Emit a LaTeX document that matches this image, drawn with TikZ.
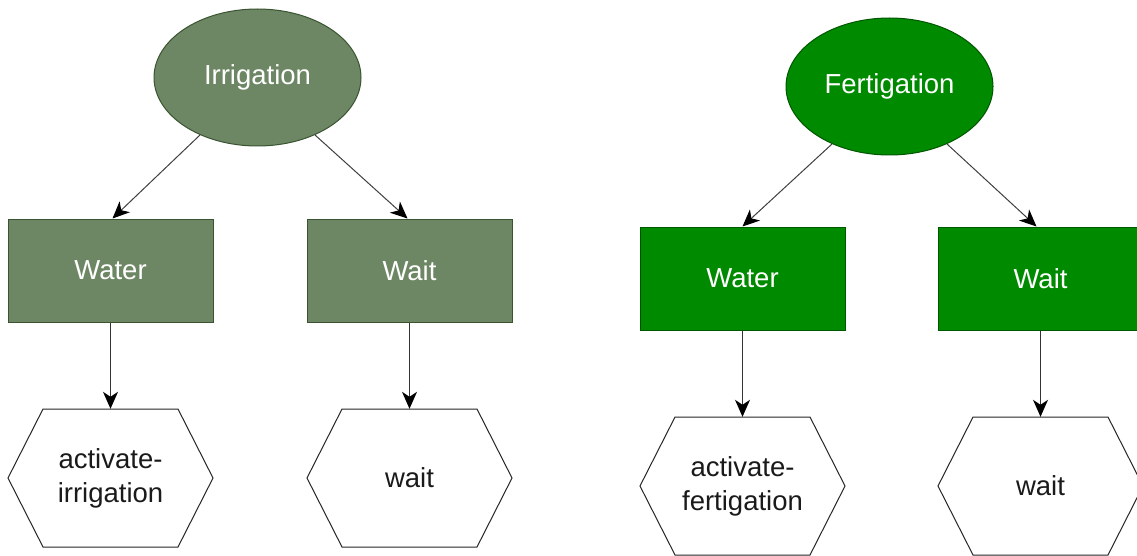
\documentclass[tikz,border=0pt]{standalone}
\usepackage{fontspec}
\setmainfont{Liberation Sans}
\usetikzlibrary{shapes.geometric,arrows.meta}

\definecolor{irrfill}{HTML}{6D8764}
\definecolor{irrline}{HTML}{3A5431}
\definecolor{ferfill}{HTML}{008A00}
\definecolor{ferline}{HTML}{005700}
\definecolor{inktext}{HTML}{1A1A1A}

\tikzset{
  x=1pt, y=-1pt,
  lbl/.style={font=\fontsize{27.5}{34}\selectfont, align=center},
  topic/.style={ellipse, lbl, text=white, line width=1pt,
    minimum width=207pt, minimum height=137pt, inner sep=0pt},
  irr/.style={fill=irrfill, draw=irrline},
  fer/.style={fill=ferfill, draw=ferline},
  taskbox/.style={rectangle, lbl, text=white, line width=1pt,
    minimum width=205pt, minimum height=103pt, inner sep=0pt},
  hexbox/.style={rectangle, lbl, text=inktext,
    minimum width=205pt, minimum height=138pt, inner sep=0pt},
  hexline/.style={draw=black!85, line width=1pt, fill=white},
  link/.style={draw=black!75, line width=1pt,
    -{Stealth[length=17pt, width=15pt, inset=5pt, color=black]}},
  drop/.style={link, draw=black!80, line width=1.2pt}
}

\begin{document}
\begin{tikzpicture}
  \useasboundingbox[fill=white] (0,0) rectangle (1137,556);

  % irrigation branch
  \node[topic, irr]   (irr)     at (257.5,77.5) {Irrigation};
  \node[taskbox, irr] (irrwater) at (110.5,270.5) {Water};
  \node[taskbox, irr] (irrwait)  at (409.5,270.5) {Wait};

  % fertigation branch
  \node[topic, fer]   (fer)     at (889.5,86.5) {Fertigation};
  \node[taskbox, fer] (ferwater) at (742.5,278.5) {Water};
  \node[taskbox, fer] (ferwait)  at (1040.5,278.5) {Wait};

  % hexagonal action outlines (drawn before their labels)
  \foreach \cx/\cy in {110.5/478, 409.5/478, 742.5/486, 1040.5/486}{
    \path[hexline] (\cx-102.5,\cy) -- (\cx-67.5,\cy-69) -- (\cx+67.5,\cy-69)
      -- (\cx+102.5,\cy) -- (\cx+67.5,\cy+69) -- (\cx-67.5,\cy+69) -- cycle;
  }
  \node[hexbox] (irract)  at (110.5,478) {activate-\\irrigation};
  \node[hexbox] (irrhold) at (409.5,478) {wait};
  \node[hexbox] (feract)  at (742.5,486) {activate-\\fertigation};
  \node[hexbox] (ferhold) at (1040.5,486) {wait};

  % connectors
  \draw[link] (irr.225) -- ([xshift=2pt]irrwater.north);
  \draw[link] (irr.315) -- ([xshift=-2pt]irrwait.north);
  \draw[link] (fer.225) -- (ferwater.north);
  \draw[link] (fer.315) -- ([xshift=-4pt]ferwait.north);

  \draw[drop] (irrwater.south) -- (irract.north);
  \draw[drop] (irrwait.south)  -- (irrhold.north);
  \draw[drop] (ferwater.south) -- (feract.north);
  \draw[drop] (ferwait.south)  -- (ferhold.north);
\end{tikzpicture}
\end{document}
